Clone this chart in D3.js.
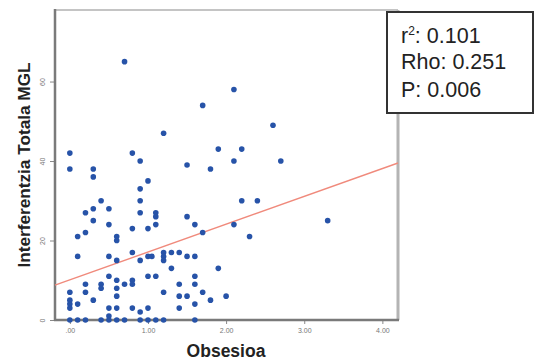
<!DOCTYPE html>
<html>
<head>
<meta charset="utf-8">
<script src="https://cdn.jsdelivr.net/npm/d3@7"></script>
<style>
  html, body { margin: 0; padding: 0; background: #fff; }
  svg { display: block; }
</style>
</head>
<body>
<svg id="chart" width="537" height="362"></svg>
<script>
// ---- data ----
const xValues = [
  0,0,0,0,0,0,0,
  0.1,0.1,0.1,0.1,
  0.2,0.2,0.2,0.2,0.2,
  0.3,0.3,0.3,0.3,0.3,
  0.4,0.4,0.4,0.4,
  0.5,0.5,0.5,0.5,0.5,0.5,0.5,
  0.6,0.6,0.6,0.6,0.6,0.6,0.6,0.6,
  0.7,0.7,0.7,
  0.8,0.8,0.8,0.8,0.8,0.8,
  0.9,0.9,0.9,0.9,0.9,0.9,0.9,
  1.0,1.0,1.0,1.0,1.0,1.0,1.05,
  1.1,1.1,1.1,1.1,1.1,
  1.2,1.2,1.2,1.2,1.2,1.2,
  1.3,1.3,
  1.4,1.4,1.4,1.4,
  1.5,1.5,1.5,1.5,
  1.6,1.6,1.6,1.6,1.6,1.6,
  1.7,1.7,1.7,
  1.8,1.8,
  1.9,1.9,
  2.0,
  2.1,2.1,2.1,
  2.2,2.2,
  2.3,
  2.4,
  2.6,
  2.7,
  3.3
];
const yValues = [
  42,38,7,5,4,3,0,
  21,16,4,0,
  27,22,9,7,0,
  38,36,28,25,5,
  30,9,8,0,
  28,24,16,11,3,1,0,
  21,20,15,10,8,6,3,0,
  65,9,0,
  42,23,17,10,9,3,
  40,33,30,27,15,2,0,
  35,23,16,11,3,0,16,
  27,26,24,11,0,
  47,17,16,15,7,0,
  17,13,
  17,9,6,3,
  39,26,16,6,
  24,16,11,9,4,0,
  54,22,7,
  38,5,
  43,13,
  6,
  58,40,24,
  43,30,
  21,
  30,
  49,
  40,
  25
];
const xTicks = [0, 1, 2, 3, 4];
const xTickLabels = [".00", "1.00", "2.00", "3.00", "4.00"];
const yTicks = [0, 20, 40, 60];
const yTickLabels = ["0", "20", "40", "60"];
const fitIntercept = 10.1;
const fitSlope = 7.0;
const statLines = ["r", "Rho: 0.251", "P: 0.006"];
const xTitle = "Obsesioa";
const yTitle = "Interferentzia Totala MGL";

// ---- layout ----
const svg = d3.select("#chart");
const L = 55, R = 398, T = 10, B = 320;
const x = d3.scaleLinear().domain([-0.19, 4.2]).range([L, R]);
const y = d3.scaleLinear().domain([0, 78]).range([B, T]);

// frame
svg.append("line").attr("x1", L).attr("x2", R).attr("y1", T).attr("y2", T)
  .attr("stroke", "#c4c4c4").attr("stroke-width", 2);
svg.append("line").attr("x1", R).attr("x2", R).attr("y1", T).attr("y2", B)
  .attr("stroke", "#b4b4b4").attr("stroke-width", 3);

// axes
const xAxis = d3.axisBottom(x).tickValues(xTicks)
  .tickFormat((d, i) => xTickLabels[i]).tickSize(4).tickPadding(4);
const yAxis = d3.axisLeft(y).tickValues(yTicks)
  .tickFormat((d, i) => yTickLabels[i]).tickSize(5).tickPadding(3);

const gx = svg.append("g").attr("transform", `translate(0,${B})`).call(xAxis);
const gy = svg.append("g").attr("transform", `translate(${L},0)`).call(yAxis);

[gx, gy].forEach(g => {
  g.select(".domain").remove();
  g.selectAll(".tick line").attr("stroke", "#888").attr("stroke-width", 1);
  g.selectAll(".tick text").attr("fill", "#777")
    .style("font-family", "'Liberation Sans', Arial, sans-serif")
    .style("font-size", "7px");
});
gy.selectAll(".tick text")
  .attr("text-anchor", "middle")
  .attr("transform", "translate(-4,0) rotate(-90,-8,0)")
  .attr("dy", "0.35em");

// axis lines (left & bottom)
svg.append("line").attr("x1", L).attr("x2", L).attr("y1", T - 1).attr("y2", B + 1)
  .attr("stroke", "#7a7a7a").attr("stroke-width", 2.5);
svg.append("line").attr("x1", L - 1).attr("x2", R + 1).attr("y1", B).attr("y2", B)
  .attr("stroke", "#7a7a7a").attr("stroke-width", 2.5);

// fit line
const fitX = x.domain();
svg.append("line")
  .attr("x1", x(fitX[0])).attr("y1", y(fitIntercept + fitSlope * fitX[0]))
  .attr("x2", x(fitX[1])).attr("y2", y(fitIntercept + fitSlope * fitX[1]))
  .attr("stroke", "#f08a7c").attr("stroke-width", 1.4);

// points
const pts = xValues.map((v, i) => ({ x: v, y: yValues[i] }));
svg.append("g").selectAll("circle").data(pts).join("circle")
  .attr("cx", d => x(d.x)).attr("cy", d => y(d.y)).attr("r", 2.8)
  .attr("fill", "#2753a8");

// axis titles
svg.append("text").attr("x", 226).attr("y", 357)
  .attr("text-anchor", "middle")
  .style("font-family", "'Liberation Sans', Arial, sans-serif")
  .style("font-weight", "bold").style("font-size", "17.5px").attr("fill", "#222")
  .text(xTitle);
svg.append("text")
  .attr("transform", "translate(30,165) rotate(-90)")
  .attr("text-anchor", "middle")
  .style("font-family", "'Liberation Sans', Arial, sans-serif")
  .style("font-weight", "bold").style("font-size", "17.2px").attr("fill", "#222")
  .text(yTitle);

// stats box
svg.append("rect").attr("x", 387).attr("y", 12).attr("width", 146).attr("height", 101)
  .attr("fill", "#fff").attr("stroke", "#333").attr("stroke-width", 2);
const st = svg.append("g")
  .style("font-family", "'Liberation Sans', Arial, sans-serif")
  .style("font-size", "21.5px").attr("fill", "#222");
const t1 = st.append("text").attr("x", 401).attr("y", 43);
t1.append("tspan").text(statLines[0]);
t1.append("tspan").attr("dy", -8).style("font-size", "12px").text("2");
t1.append("tspan").attr("dy", 8).text(": 0.101");
st.append("text").attr("x", 401).attr("y", 69).text(statLines[1]);
st.append("text").attr("x", 401).attr("y", 97).text(statLines[2]);
</script>
</body>
</html>
